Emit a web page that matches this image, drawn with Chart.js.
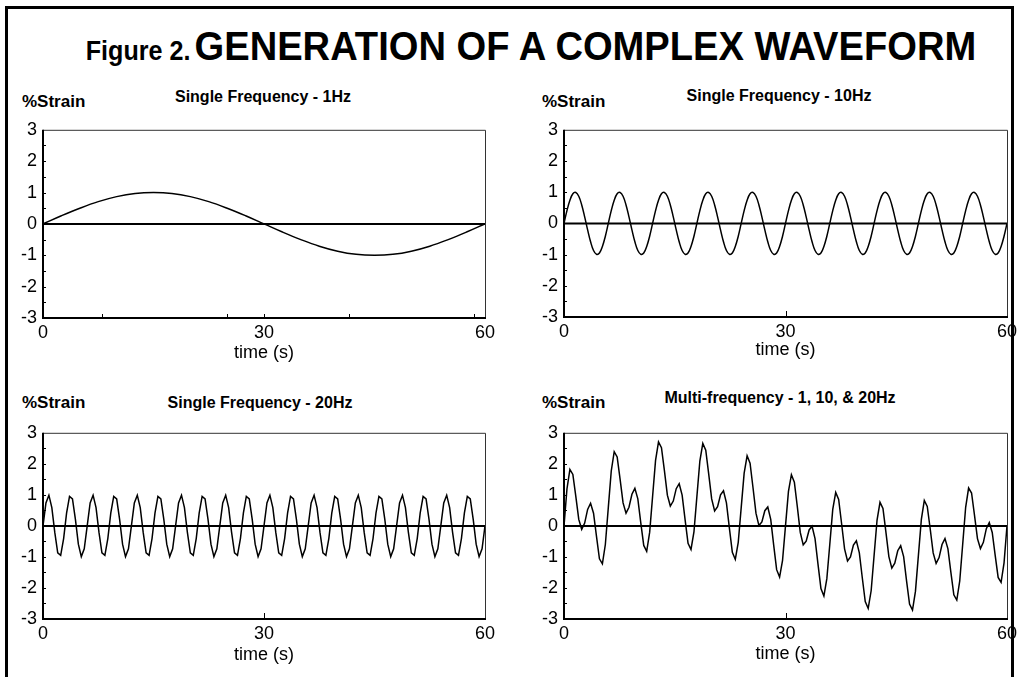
<!DOCTYPE html>
<html>
<head>
<meta charset="utf-8">
<script src="https://cdn.jsdelivr.net/npm/chart.js@4.4.0/dist/chart.umd.min.js"></script>
<style>
  body { margin: 0; width: 1017px; height: 677px; overflow: hidden; background: #fff;
         font-family: "Liberation Sans", Arial, sans-serif; color: #000; position: relative; }
  #frame { position: absolute; left: 5px; top: 6px; width: 1003px; height: 720px; border: 3px solid #000; }
  #title { position: absolute; left: 0; width: 1062px; top: 23px; text-align: center; font-weight: bold;
           white-space: nowrap; line-height: 46px; transform: scaleX(0.93); transform-origin: 531px 0; }
  #title .fig { font-size: 27px; }
  #title .main { font-size: 41px; }
  .lbl { position: absolute; font-weight: bold; white-space: nowrap; line-height: 20px; }
  .ylab { font-size: 17px; }
  .ptitle { font-size: 16px; transform: translateX(-50%); }
  canvas { position: absolute; }
</style>
</head>
<body>
<div id="frame"></div>
<div id="title"><span class="fig">Figure 2.</span> <span class="main">GENERATION OF A COMPLEX WAVEFORM</span></div>

<div class="lbl ylab" style="left:22px; top:92px;">%Strain</div>
<div class="lbl ptitle" style="left:263px; top:87px;">Single Frequency - 1Hz</div>
<div class="lbl ylab" style="left:542px; top:92px;">%Strain</div>
<div class="lbl ptitle" style="left:779px; top:86px;">Single Frequency - 10Hz</div>
<div class="lbl ylab" style="left:22px; top:393px;">%Strain</div>
<div class="lbl ptitle" style="left:260px; top:393px;">Single Frequency - 20Hz</div>
<div class="lbl ylab" style="left:542px; top:393px;">%Strain</div>
<div class="lbl ptitle" style="left:780px; top:388px;">Multi-frequency - 1, 10, &amp; 20Hz</div>

<canvas id="c1"></canvas>
<canvas id="c2"></canvas>
<canvas id="c3"></canvas>
<canvas id="c4"></canvas>

<script>
// axis ranges and tick labels
const timeTicks = [0, 30, 60];
const strainTicks = [-3, -2, -1, 0, 1, 2, 3];
const strainMinorTicks = [-2.5, -2, -1.5, -1, -0.5, 0, 0.5, 1, 1.5, 2, 2.5];

// 1Hz trace, one sample every 2.5 s
const step1Hz = 2.5;
const strain1Hz = [
  0, 0.26, 0.50, 0.71, 0.87, 0.97, 1.00, 0.97, 0.87, 0.71, 0.50, 0.26,
  0, -0.26, -0.50, -0.71, -0.87, -0.97, -1.00, -0.97, -0.87, -0.71, -0.50, -0.26, 0
];

// the other traces are sampled every 0.4 s
const sampleStep = 0.4;

const strain10Hz = [
  0, 0.41, 0.74, 0.95, 0.99, 0.87, 0.59, 0.21, -0.21, -0.59, -0.87, -0.99, -0.95, -0.74, -0.41,
  0, 0.41, 0.74, 0.95, 0.99, 0.87, 0.59, 0.21, -0.21, -0.59, -0.87, -0.99, -0.95, -0.74, -0.41,
  0, 0.41, 0.74, 0.95, 0.99, 0.87, 0.59, 0.21, -0.21, -0.59, -0.87, -0.99, -0.95, -0.74, -0.41,
  0, 0.41, 0.74, 0.95, 0.99, 0.87, 0.59, 0.21, -0.21, -0.59, -0.87, -0.99, -0.95, -0.74, -0.41,
  0, 0.41, 0.74, 0.95, 0.99, 0.87, 0.59, 0.21, -0.21, -0.59, -0.87, -0.99, -0.95, -0.74, -0.41,
  0, 0.41, 0.74, 0.95, 0.99, 0.87, 0.59, 0.21, -0.21, -0.59, -0.87, -0.99, -0.95, -0.74, -0.41,
  0, 0.41, 0.74, 0.95, 0.99, 0.87, 0.59, 0.21, -0.21, -0.59, -0.87, -0.99, -0.95, -0.74, -0.41,
  0, 0.41, 0.74, 0.95, 0.99, 0.87, 0.59, 0.21, -0.21, -0.59, -0.87, -0.99, -0.95, -0.74, -0.41,
  0, 0.41, 0.74, 0.95, 0.99, 0.87, 0.59, 0.21, -0.21, -0.59, -0.87, -0.99, -0.95, -0.74, -0.41,
  0, 0.41, 0.74, 0.95, 0.99, 0.87, 0.59, 0.21, -0.21, -0.59, -0.87, -0.99, -0.95, -0.74, -0.41,
  0
];

const strain20Hz = [
  0, 0.74, 0.99, 0.59, -0.21, -0.87, -0.95, -0.41, 0.41, 0.95, 0.87, 0.21, -0.59, -0.99, -0.74,
  0, 0.74, 0.99, 0.59, -0.21, -0.87, -0.95, -0.41, 0.41, 0.95, 0.87, 0.21, -0.59, -0.99, -0.74,
  0, 0.74, 0.99, 0.59, -0.21, -0.87, -0.95, -0.41, 0.41, 0.95, 0.87, 0.21, -0.59, -0.99, -0.74,
  0, 0.74, 0.99, 0.59, -0.21, -0.87, -0.95, -0.41, 0.41, 0.95, 0.87, 0.21, -0.59, -0.99, -0.74,
  0, 0.74, 0.99, 0.59, -0.21, -0.87, -0.95, -0.41, 0.41, 0.95, 0.87, 0.21, -0.59, -0.99, -0.74,
  0, 0.74, 0.99, 0.59, -0.21, -0.87, -0.95, -0.41, 0.41, 0.95, 0.87, 0.21, -0.59, -0.99, -0.74,
  0, 0.74, 0.99, 0.59, -0.21, -0.87, -0.95, -0.41, 0.41, 0.95, 0.87, 0.21, -0.59, -0.99, -0.74,
  0, 0.74, 0.99, 0.59, -0.21, -0.87, -0.95, -0.41, 0.41, 0.95, 0.87, 0.21, -0.59, -0.99, -0.74,
  0, 0.74, 0.99, 0.59, -0.21, -0.87, -0.95, -0.41, 0.41, 0.95, 0.87, 0.21, -0.59, -0.99, -0.74,
  0, 0.74, 0.99, 0.59, -0.21, -0.87, -0.95, -0.41, 0.41, 0.95, 0.87, 0.21, -0.59, -0.99, -0.74,
  0
];

const strainMulti = [
  0, 1.19, 1.82, 1.66, 0.95, 0.21, -0.11, 0.09, 0.53, 0.73, 0.41, -0.34, -1.06, -1.22, -0.60,
  0.59, 1.77, 2.39, 2.22, 1.50, 0.74, 0.41, 0.60, 1.02, 1.21, 0.87, 0.10, -0.63, -0.82, -0.21,
  0.95, 2.11, 2.71, 2.52, 1.78, 0.99, 0.64, 0.80, 1.20, 1.36, 0.99, 0.20, -0.56, -0.76, -0.19,
  0.95, 2.09, 2.66, 2.44, 1.67, 0.87, 0.48, 0.62, 1.00, 1.13, 0.74, -0.07, -0.85, -1.08, -0.53,
  0.59, 1.70, 2.26, 2.02, 1.23, 0.41, 0.01, 0.13, 0.49, 0.61, 0.21, -0.62, -1.41, -1.65, -1.11,
  0, 1.11, 1.65, 1.41, 0.62, -0.21, -0.61, -0.49, -0.13, -0.01, -0.41, -1.23, -2.02, -2.26, -1.70,
  -0.59, 0.53, 1.08, 0.85, 0.07, -0.74, -1.13, -1.00, -0.62, -0.48, -0.87, -1.67, -2.44, -2.66, -2.09,
  -0.95, 0.19, 0.76, 0.56, -0.20, -0.99, -1.36, -1.20, -0.80, -0.64, -0.99, -1.78, -2.52, -2.71, -2.11,
  -0.95, 0.21, 0.82, 0.63, -0.10, -0.87, -1.21, -1.02, -0.60, -0.41, -0.74, -1.50, -2.22, -2.39, -1.77,
  -0.59, 0.60, 1.22, 1.06, 0.34, -0.41, -0.73, -0.53, -0.09, 0.11, -0.21, -0.95, -1.66, -1.82, -1.19,
  0
];

// small inward ticks on the time axis
const timeMinorTicks1Hz = [8, 25, 30, 41.5, 58.5];
const timeMinorTicks = [30];

// plot frame, zero line and the inside tick marks
const framePlugin = {
  id: 'frame',
  beforeDatasetsDraw(chart) {
    const { ctx, chartArea: a, scales } = chart;
    const y0 = scales.y.getPixelForValue(0);
    ctx.save();
    ctx.strokeStyle = '#000';
    ctx.lineWidth = 2;
    ctx.beginPath();
    ctx.moveTo(a.left, y0);
    ctx.lineTo(a.right, y0);
    ctx.stroke();
    ctx.restore();
  },
  afterDatasetsDraw(chart, args, opts) {
    const { ctx, chartArea: a, scales } = chart;
    ctx.save();
    ctx.strokeStyle = '#333';
    ctx.lineWidth = 1;
    ctx.beginPath();
    ctx.moveTo(a.left, a.top + 0.5);
    ctx.lineTo(a.right + 0.5, a.top + 0.5);
    ctx.lineTo(a.right + 0.5, a.bottom);
    ctx.stroke();

    ctx.strokeStyle = '#000';
    ctx.lineWidth = 2;
    ctx.beginPath();
    ctx.moveTo(a.left, a.top);
    ctx.lineTo(a.left, a.bottom);
    ctx.lineTo(a.right + 1, a.bottom);
    ctx.stroke();

    ctx.lineWidth = 1;
    ctx.beginPath();
    strainMinorTicks.forEach(v => {
      const y = Math.round(scales.y.getPixelForValue(v)) + 0.5;
      ctx.moveTo(a.left, y);
      ctx.lineTo(a.left + 3, y);
    });
    (opts.xTicks || []).forEach(v => {
      const x = Math.round(scales.x.getPixelForValue(v)) + 0.5;
      ctx.moveTo(x, a.bottom);
      ctx.lineTo(x, a.bottom - opts.xTickLen);
    });
    ctx.stroke();
    ctx.restore();
  }
};

function makeChart(id, plot, values, step, smooth, xTicks, xTickLen, titlePad) {
  const canvas = document.getElementById(id);
  const yScaleWidth = 40, padTop = 12, padRight = 18, xScaleHeight = 50;
  canvas.width = yScaleWidth + plot.w + padRight;
  canvas.height = padTop + plot.h + xScaleHeight;
  canvas.style.left = (plot.l - yScaleWidth) + 'px';
  canvas.style.top = (plot.t - padTop) + 'px';

  const tickFont = { family: '"Liberation Sans", Arial, sans-serif', size: 18 };

  return new Chart(canvas, {
    type: 'line',
    data: {
      datasets: [{
        data: values.map((v, i) => ({ x: i * step, y: v })),
        borderColor: '#000',
        borderWidth: 1.5,
        pointRadius: 0,
        tension: smooth ? 0.4 : 0,
        fill: false
      }]
    },
    options: {
      responsive: false,
      animation: false,
      devicePixelRatio: 1,
      layout: { padding: { top: padTop, right: padRight, left: 0, bottom: 0 } },
      plugins: {
        legend: { display: false },
        tooltip: { enabled: false },
        frame: { xTicks: xTicks, xTickLen: xTickLen }
      },
      scales: {
        x: {
          type: 'linear',
          min: 0,
          max: 60,
          afterBuildTicks: s => { s.ticks = timeTicks.map(v => ({ value: v })); },
          afterFit: s => { s.height = xScaleHeight; },
          ticks: { color: '#000', font: tickFont, padding: 4, maxRotation: 0 },
          grid: { display: false, drawTicks: false },
          border: { display: false },
          title: { display: true, text: 'time (s)', color: '#000', font: tickFont,
                   padding: { top: 0, bottom: titlePad } }
        },
        y: {
          min: -3,
          max: 3,
          afterBuildTicks: s => { s.ticks = strainTicks.map(v => ({ value: v })); },
          afterFit: s => { s.width = yScaleWidth; },
          ticks: { color: '#000', font: tickFont, padding: 6 },
          grid: { display: false, drawTicks: false },
          border: { display: false }
        }
      }
    },
    plugins: [framePlugin]
  });
}

makeChart('c1', { l: 43, t: 125, w: 442, h: 193 }, strain1Hz, step1Hz, true, timeMinorTicks1Hz, 4, 4);
makeChart('c2', { l: 564, t: 125, w: 443, h: 192 }, strain10Hz, sampleStep, true, timeMinorTicks, 6, 6);
makeChart('c3', { l: 43, t: 428, w: 442, h: 191 }, strain20Hz, sampleStep, false, timeMinorTicks, 6, 3);
makeChart('c4', { l: 564, t: 428, w: 443, h: 191 }, strainMulti, sampleStep, false, timeMinorTicks, 6, 4);
</script>
</body>
</html>
